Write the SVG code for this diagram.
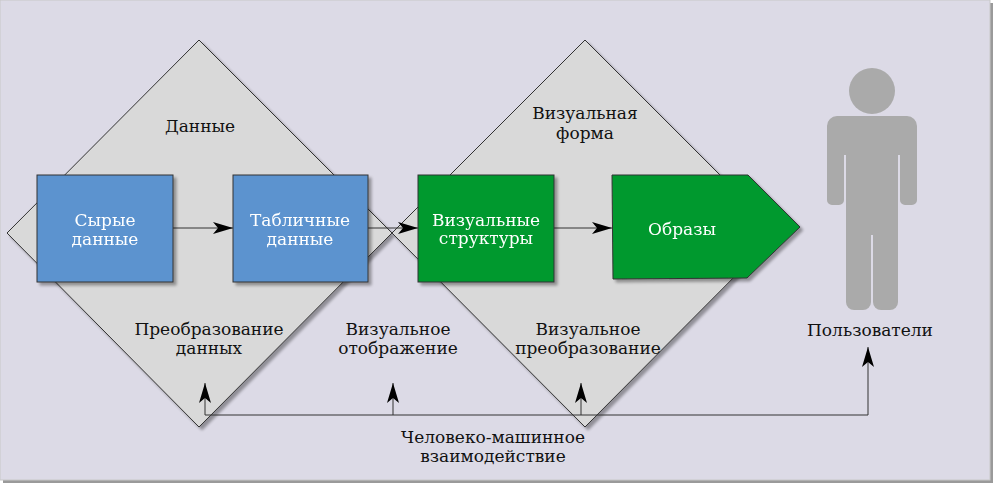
<svg xmlns="http://www.w3.org/2000/svg" width="1000" height="488" viewBox="0 0 1000 488">
<defs>
<filter id="sh" x="-10%" y="-10%" width="130%" height="130%">
<feGaussianBlur in="SourceAlpha" stdDeviation="1.5"/>
<feOffset dx="3" dy="3" result="b"/>
<feComponentTransfer><feFuncA type="linear" slope="0.35"/></feComponentTransfer>
<feMerge><feMergeNode/><feMergeNode in="SourceGraphic"/></feMerge>
</filter>
<marker id="ah" viewBox="0 0 20 12" refX="20" refY="6" markerWidth="20" markerHeight="12" markerUnits="userSpaceOnUse" orient="auto">
<path d="M0,0 L20,6 L0,12 L5,6 Z" fill="#000"/>
</marker>
<style>
.dia{fill:#d9d9d9;stroke:#333;stroke-width:1}
.blue{fill:#5b93cf;stroke:#333;stroke-width:1}
.green{fill:#00992e;stroke:#333;stroke-width:1}
.t{font-family:"DejaVu Serif","Liberation Serif",serif;font-size:17px;text-anchor:middle;fill:#111}
.w{fill:#fff}
.ln{fill:none;stroke:#333;stroke-width:1}
.person{fill:#aaaaaa}
</style>
</defs>
<rect x="0" y="0" width="1000" height="488" fill="#fff"/>
<rect x="3" y="3" width="990" height="480" fill="#9a9a9a"/>
<rect x="0" y="0" width="990" height="480" fill="#dcdae6" stroke="#c8c8c8" stroke-width="1"/>

<g id="diamond-data" filter="url(#sh)">
<polygon class="dia" points="199,40 392,233 199,427 7,233"/>
</g>
<g id="diamond-visual" filter="url(#sh)">
<polygon class="dia" points="585,40 778,233 585,427 392,233"/>
</g>
<text class="t" x="200" y="132">Данные</text>
<text class="t" x="585" y="119">Визуальная</text>
<text class="t" x="585" y="139">форма</text>

<g id="connectors">
<line class="ln" x1="173" y1="228" x2="233" y2="228" marker-end="url(#ah)"/>
<line class="ln" x1="368" y1="228" x2="418" y2="228" marker-end="url(#ah)"/>
<line class="ln" x1="554" y1="228" x2="612" y2="228" marker-end="url(#ah)"/>
<polyline class="ln" points="205,415 868,415 868,347" marker-end="url(#ah)"/>
<line class="ln" x1="205" y1="415" x2="205" y2="383" marker-end="url(#ah)"/>
<line class="ln" x1="393" y1="415" x2="393" y2="383" marker-end="url(#ah)"/>
<line class="ln" x1="581" y1="415" x2="581" y2="383" marker-end="url(#ah)"/>
</g>

<g id="raw-data" filter="url(#sh)">
<rect class="blue" x="37" y="175" width="136" height="107"/>
<text class="t w" x="105" y="226">Сырые</text>
<text class="t w" x="105" y="245">данные</text>
</g>
<g id="table-data" filter="url(#sh)">
<rect class="blue" x="233" y="175" width="135" height="107"/>
<text class="t w" x="300" y="226">Табличные</text>
<text class="t w" x="300" y="245">данные</text>
</g>
<g id="visual-structures" filter="url(#sh)">
<rect class="green" x="418" y="175" width="136" height="107"/>
<text class="t w" x="486" y="226">Визуальные</text>
<text class="t w" x="486" y="244">структуры</text>
</g>
<g id="images" filter="url(#sh)">
<polygon class="green" points="612,175 748,175 800,227 747,278 613,279"/>
<text class="t w" x="682" y="235">Образы</text>
</g>

<g id="users">
<g class="person">
<circle cx="872" cy="91" r="23"/>
<path d="M837,116 H907 A10,10 0 0 1 917,126 V200 A5,5 0 0 1 912,205 H905 A5,5 0 0 1 900,200 V155 H844 V200 A5,5 0 0 1 839,205 H832 A5,5 0 0 1 827,200 V126 A10,10 0 0 1 837,116 Z"/>
<rect x="846" y="150" width="52" height="85"/>
<path d="M846,225 H871 V302 A8,8 0 0 1 863,310 H854 A8,8 0 0 1 846,302 Z"/>
<path d="M873,225 H898 V302 A8,8 0 0 1 890,310 H881 A8,8 0 0 1 873,302 Z"/>
</g>
<text class="t" x="870" y="336">Пользователи</text>
</g>

<g id="labels">
<text class="t" x="209" y="335">Преобразование</text>
<text class="t" x="209" y="354">данных</text>
<text class="t" x="398" y="335">Визуальное</text>
<text class="t" x="398" y="354">отображение</text>
<text class="t" x="588" y="335">Визуальное</text>
<text class="t" x="588" y="354">преобразование</text>
<text class="t" x="493" y="443">Человеко-машинное</text>
<text class="t" x="493" y="462">взаимодействие</text>
</g>
</svg>
